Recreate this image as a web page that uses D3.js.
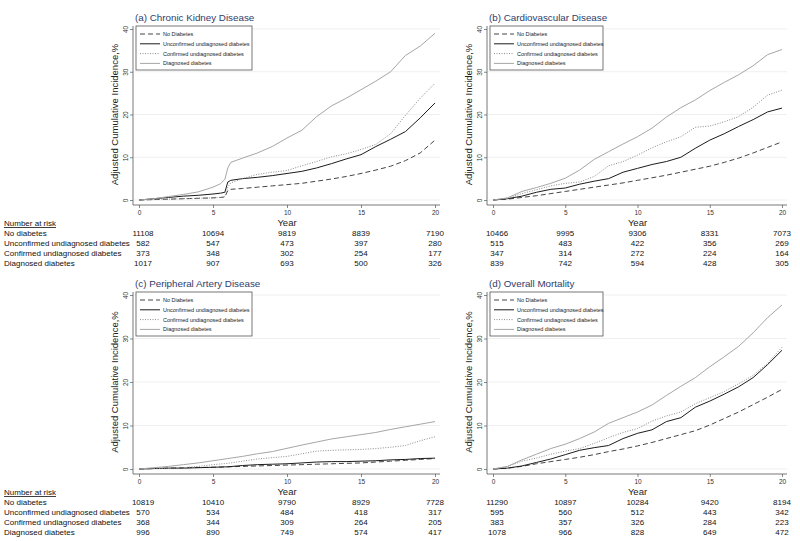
<!DOCTYPE html>
<html>
<head>
<meta charset="utf-8">
<script src="https://cdnjs.cloudflare.com/ajax/libs/d3/7.8.5/d3.min.js"></script>
<style>
  body { margin: 0; background: #fff; }
  svg { display: block; font-family: Arial, 'Liberation Sans', sans-serif; }
</style>
</head>
<body>
<svg width="800" height="541"></svg>
<script>

// labels
const panelTitles = ['(a) Chronic Kidney Disease', '(b) Cardiovascular Disease', '(c) Peripheral Artery Disease', '(d) Overall Mortality']
const legendNames = ['No Diabetes', 'Unconfirmed undiagnosed diabetes', 'Confirmed undiagnosed diabetes', 'Diagnosed diabetes']
const riskLabels = ['No diabetes', 'Unconfirmed undiagnosed diabetes', 'Confirmed undiagnosed diabetes', 'Diagnosed diabetes']
const xTicks = [0, 5, 10, 15, 20]
const yTicks = [0, 10, 20, 30, 40]

// (a) CKD, extra points around the jump at ~6 years
const ckdYears = [0, 1, 2, 3, 4, 5, 5.5, 5.8, 6, 6.2, 7, 8, 9, 10, 11, 12, 13, 14, 15, 16, 17, 18, 19, 20]
const ckdNoDiab = [0, 0.1, 0.2, 0.3, 0.4, 0.5, 0.6, 0.7, 2.2, 2.5, 2.7, 3.0, 3.3, 3.6, 3.9, 4.4, 4.9, 5.5, 6.2, 7.0, 7.9, 9.2, 11.0, 14.0]
const ckdUnconf = [0, 0.3, 0.6, 0.9, 1.1, 1.4, 1.6, 1.8, 4.2, 4.6, 5.0, 5.3, 5.7, 6.2, 6.7, 7.5, 8.5, 9.6, 10.6, 12.5, 14.2, 16.0, 19.2, 22.7]
const ckdConf = [0, 0.1, 0.2, 0.3, 0.4, 0.5, 0.6, 0.8, 3.0, 4.0, 5.0, 6.0, 6.5, 6.9, 8.0, 9.0, 10.1, 10.8, 11.8, 13.0, 15.5, 19.8, 23.8, 27.3]
const ckdDiag = [0, 0.3, 0.8, 1.3, 1.9, 3.0, 3.8, 4.8, 7.5, 8.8, 9.8, 11.0, 12.5, 14.5, 16.3, 19.5, 22.0, 23.8, 25.8, 27.8, 30.0, 33.8, 36.0, 39.0]
const ckdRisk = [[11108, 10694, 9819, 8839, 7190], [582, 547, 473, 397, 280], [373, 348, 302, 254, 177], [1017, 907, 693, 500, 326]]

// yearly grid for the other three panels
const years = [0, 1, 2, 3, 4, 5, 6, 7, 8, 9, 10, 11, 12, 13, 14, 15, 16, 17, 18, 19, 20]

// (b) CVD
const cvdNoDiab = [0, 0.2, 0.6, 1.0, 1.5, 2.0, 2.5, 3.0, 3.5, 4.0, 4.6, 5.2, 5.8, 6.5, 7.2, 7.9, 8.8, 9.8, 11.0, 12.3, 13.6]
const cvdUnconf = [0, 0.3, 0.9, 1.8, 2.5, 2.8, 3.7, 4.4, 5.0, 6.5, 7.4, 8.3, 9.0, 10.0, 12.1, 14.0, 15.5, 17.2, 18.8, 20.6, 21.5]
const cvdConf = [0, 0.4, 1.5, 2.4, 3.3, 3.9, 4.2, 5.5, 8.0, 9.0, 10.5, 12.2, 13.6, 14.8, 17.0, 17.3, 18.3, 19.5, 21.7, 24.5, 25.7]
const cvdDiag = [0, 0.5, 2.0, 2.9, 3.9, 5.1, 7.0, 9.5, 11.3, 13.1, 14.8, 16.8, 19.4, 21.6, 23.4, 25.6, 27.5, 29.3, 31.4, 34.0, 35.2]
const cvdRisk = [[10466, 9995, 9306, 8331, 7073], [515, 483, 422, 356, 269], [347, 314, 272, 224, 164], [839, 742, 594, 428, 305]]

// (c) PAD
const padNoDiab = [0, 0.1, 0.2, 0.3, 0.35, 0.4, 0.5, 0.6, 0.7, 0.8, 0.9, 1.0, 1.1, 1.2, 1.3, 1.4, 1.6, 1.8, 2.0, 2.2, 2.4]
const padUnconf = [0, 0.1, 0.2, 0.2, 0.3, 0.4, 0.5, 0.8, 1.0, 1.1, 1.2, 1.4, 1.6, 1.7, 1.7, 1.8, 1.9, 2.1, 2.2, 2.4, 2.5]
const padConf = [0, 0.1, 0.2, 0.3, 0.6, 1.0, 1.3, 1.8, 2.3, 2.6, 2.9, 3.5, 4.1, 4.3, 4.4, 4.5, 4.7, 5.0, 5.4, 6.5, 7.4]
const padDiag = [0, 0.3, 0.6, 1.0, 1.4, 1.9, 2.4, 2.9, 3.5, 4.0, 4.75, 5.5, 6.2, 6.9, 7.4, 7.9, 8.4, 9.1, 9.7, 10.3, 10.9]
const padRisk = [[10819, 10410, 9790, 8929, 7728], [570, 534, 484, 418, 317], [368, 344, 309, 264, 205], [996, 890, 749, 574, 417]]

// (d) mortality
const mortNoDiab = [0, 0.2, 0.6, 1.2, 1.7, 2.2, 2.7, 3.3, 4.0, 4.6, 5.3, 6.1, 7.0, 7.9, 8.8, 10.1, 11.6, 13.1, 14.8, 16.5, 18.3]
const mortUnconf = [0, 0.2, 0.7, 1.5, 2.3, 3.3, 4.3, 4.9, 5.4, 7.0, 8.2, 9.0, 10.9, 11.8, 14.2, 15.6, 17.2, 18.9, 21.0, 24.0, 27.3]
const mortConf = [0, 0.5, 1.8, 2.5, 3.4, 4.1, 4.7, 5.9, 7.2, 8.4, 9.3, 11.0, 12.2, 13.1, 15.0, 16.4, 17.8, 19.6, 21.5, 24.3, 28.0]
const mortDiag = [0, 0.6, 2.1, 3.4, 4.7, 5.7, 7.0, 8.5, 10.5, 11.8, 13.1, 14.7, 16.9, 19.0, 21.0, 23.5, 25.8, 28.2, 31.3, 34.8, 37.7]
const mortRisk = [[11290, 10897, 10284, 9420, 8194], [595, 560, 512, 443, 342], [383, 357, 326, 284, 223], [1078, 966, 828, 649, 472]]

let svg = d3.select('svg')

// line look for each group: dashed, solid dark, dotted, light solid
let lineStyle = [
  { stroke: '#454545', dash: '5,3' },
  { stroke: '#1c1c1c', dash: null },
  { stroke: '#8c8c8c', dash: '1,1.5' },
  { stroke: '#a6a6a6', dash: null }
]

let panels = [
  { title: panelTitles[0], t: ckdYears, series: [ckdNoDiab, ckdUnconf, ckdConf, ckdDiag], risk: ckdRisk, x: [139, 435], y: [200, 29], legW: 116 },
  { title: panelTitles[1], t: years, series: [cvdNoDiab, cvdUnconf, cvdConf, cvdDiag], risk: cvdRisk, x: [493, 782], y: [200, 29], legW: 113 },
  { title: panelTitles[2], t: years, series: [padNoDiab, padUnconf, padConf, padDiag], risk: padRisk, x: [139, 435], y: [469, 295], legW: 116 },
  { title: panelTitles[3], t: years, series: [mortNoDiab, mortUnconf, mortConf, mortDiag], risk: mortRisk, x: [493, 782], y: [469, 295], legW: 113 }
]

panels.forEach(drawPanel)

function drawPanel(p) {
  let xs = d3.scaleLinear().domain([0, 20]).range(p.x)
  let ys = d3.scaleLinear().domain([0, 40]).range(p.y)
  let g = svg.append('g')

  let axisX = xs(0) - 6
  let axisY = ys(0) + 5
  let right = xs(20) + 5

  // grid
  g.selectAll('line.grid')
    .data(yTicks)
    .enter().append('line')
    .attr('class', 'grid')
    .attr('x1', axisX + 1).attr('x2', right)
    .attr('y1', d => ys(d)).attr('y2', d => ys(d))
    .attr('stroke', '#ebebeb')
    .attr('stroke-width', 0.8)

  // y axis
  let yAxis = g.append('g')
    .attr('transform', 'translate(' + axisX + ',0)')
    .call(d3.axisLeft(ys).tickValues(yTicks).tickSize(3).tickFormat(d3.format('d')))
  yAxis.select('.domain').remove()
  yAxis.selectAll('line').attr('stroke', '#555').attr('stroke-width', 0.7)
  yAxis.selectAll('text')
    .attr('x', 0).attr('dy', 0)
    .attr('text-anchor', 'middle')
    .attr('transform', 'translate(-5,0) rotate(-90)')
    .attr('font-size', 6.5)
    .attr('fill', '#333')
  g.append('line')
    .attr('x1', axisX).attr('x2', axisX)
    .attr('y1', ys(40) - 3).attr('y2', axisY)
    .attr('stroke', '#555').attr('stroke-width', 0.8)

  // x axis
  let xAxis = g.append('g')
    .attr('transform', 'translate(0,' + axisY + ')')
    .call(d3.axisBottom(xs).tickValues(xTicks).tickSize(3).tickPadding(2))
  xAxis.select('.domain').remove()
  xAxis.selectAll('line').attr('stroke', '#555').attr('stroke-width', 0.7)
  xAxis.selectAll('text').attr('font-size', 6.5).attr('fill', '#333')
  g.append('line')
    .attr('x1', axisX).attr('x2', right)
    .attr('y1', axisY).attr('y2', axisY)
    .attr('stroke', '#555').attr('stroke-width', 0.8)

  g.append('text')
    .attr('x', xs(10)).attr('y', axisY + 21)
    .attr('text-anchor', 'middle')
    .attr('font-size', 9.5)
    .attr('fill', '#222')
    .text('Year')

  // y title
  g.append('text')
    .attr('transform', 'translate(' + (xs(0) - 21) + ',' + ((ys(0) + ys(40)) / 2) + ') rotate(-90)')
    .attr('text-anchor', 'middle')
    .attr('font-size', 9.5)
    .attr('fill', '#222')
    .text('Adjusted Cumulative Incidence,%')

  // panel title
  g.append('text')
    .attr('x', xs(0) - 4).attr('y', ys(40) - 8)
    .attr('font-size', 9.8)
    .attr('fill', '#2e3d6b')
    .text(p.title)

  // curves
  let line = d3.line()
    .x((d, i) => xs(p.t[i]))
    .y(d => ys(d))

  g.selectAll('path.curve')
    .data(p.series)
    .enter().append('path')
    .attr('class', 'curve')
    .attr('d', line)
    .attr('fill', 'none')
    .attr('stroke', (d, i) => lineStyle[i].stroke)
    .attr('stroke-dasharray', (d, i) => lineStyle[i].dash)
    .attr('stroke-width', 1)

  // legend
  let lx = xs(0) - 3, ly = ys(40) - 3
  g.append('rect')
    .attr('x', lx).attr('y', ly)
    .attr('width', p.legW).attr('height', 44)
    .attr('fill', '#fff')
    .attr('stroke', '#555')
    .attr('stroke-width', 0.8)

  let item = g.selectAll('g.leg')
    .data(legendNames)
    .enter().append('g')
    .attr('class', 'leg')
    .attr('transform', (d, i) => 'translate(' + lx + ',' + (ly + 8 + i * 9.8) + ')')
  item.append('line')
    .attr('x1', 4).attr('x2', 24)
    .attr('stroke', (d, i) => lineStyle[i].stroke)
    .attr('stroke-dasharray', (d, i) => lineStyle[i].dash)
    .attr('stroke-width', 1)
  item.append('text')
    .attr('x', 27).attr('dy', '0.35em')
    .attr('font-size', 5.5)
    .attr('fill', '#222')
    .text(d => d)

  // number at risk table
  let isLeft = p.x[0] < 400
  if (isLeft) {
    g.append('text')
      .attr('x', 4).attr('y', axisY + 21)
      .attr('font-size', 8)
      .attr('fill', '#111')
      .attr('text-decoration', 'underline')
      .text('Number at risk')
    g.selectAll('text.rlab')
      .data(riskLabels)
      .enter().append('text')
      .attr('class', 'rlab')
      .attr('x', 4)
      .attr('y', (d, i) => axisY + 31 + i * 10)
      .attr('font-size', 8)
      .attr('fill', '#111')
      .text(d => d)
  }
  p.risk.forEach((row, r) => {
    g.selectAll('text.rn' + r)
      .data(row)
      .enter().append('text')
      .attr('class', 'rn' + r)
      .attr('x', (d, i) => xs(xTicks[i]) + (i === 0 ? 4 : 0))
      .attr('y', axisY + 31 + r * 10)
      .attr('text-anchor', 'middle')
      .attr('font-size', 8)
      .attr('fill', '#111')
      .text(d => d)
  })
}

</script>
</body>
</html>
